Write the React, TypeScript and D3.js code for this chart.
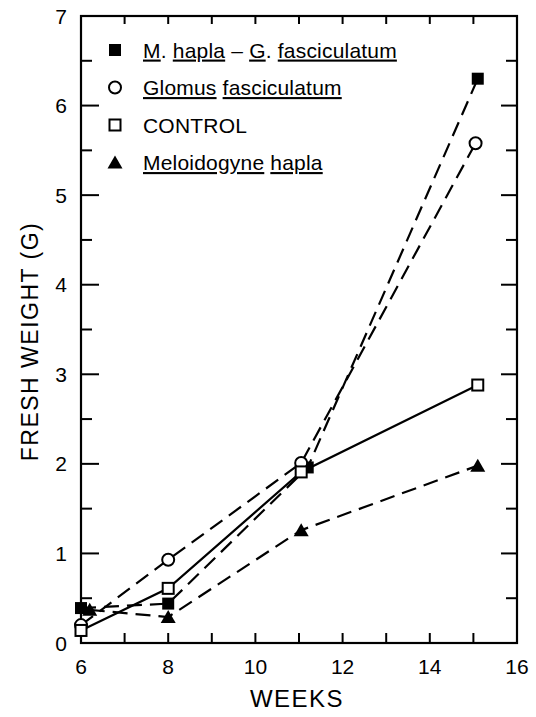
import * as d3 from "d3";

// weeks and fresh weight (g) per treatment
const mgWeeks = [6.0, 8, 11.2, 15.1];
const mgValues = [0.39, 0.44, 1.96, 6.3];
const gfWeeks = [6.0, 8, 11.05, 15.05];
const gfValues = [0.2, 0.93, 2.01, 5.58];
const ctrlWeeks = [6.0, 8, 11.05, 15.1];
const ctrlValues = [0.14, 0.61, 1.91, 2.88];
const mhWeeks = [6.2, 8, 11.05, 15.1];
const mhValues = [0.37, 0.29, 1.26, 1.98];

const xTickLabels = [6, 8, 10, 12, 14, 16];
const yTickLabels = [0, 1, 2, 3, 4, 5, 6, 7];

const W = 536,
  H = 717;
const left = 81,
  right = 517,
  top = 16,
  bottom = 643;

const FONT = "'Liberation Sans', Arial, sans-serif";

type Kind = "fsquare" | "circle" | "square" | "triangle";

function Marker({ kind, cx, cy }: { kind: Kind; cx: number; cy: number }) {
  if (kind === "fsquare") return <rect x={cx - 6} y={cy - 6} width={12} height={12} fill="#000" />;
  if (kind === "square")
    return <rect x={cx - 5.5} y={cy - 5.5} width={11} height={11} fill="#fff" stroke="#000" strokeWidth={2} />;
  if (kind === "circle") return <circle cx={cx} cy={cy} r={6} fill="#fff" stroke="#000" strokeWidth={2} />;
  return <path d={`M${cx},${cy - 7}L${cx + 7.5},${cy + 6}L${cx - 7.5},${cy + 6}Z`} fill="#000" />;
}

export default function App() {
  const x = d3.scaleLinear().domain([6, 16]).range([left, right]);
  const y = d3.scaleLinear().domain([0, 7]).range([bottom, top]);

  const series = [
    { kind: "fsquare" as Kind, weeks: mgWeeks, values: mgValues, dash: "15,8" },
    { kind: "circle" as Kind, weeks: gfWeeks, values: gfValues, dash: "15,8" },
    { kind: "square" as Kind, weeks: ctrlWeeks, values: ctrlValues, dash: undefined },
    { kind: "triangle" as Kind, weeks: mhWeeks, values: mhValues, dash: "15,8" },
  ];

  const line = d3
    .line<[number, number]>()
    .x((d) => x(d[0]))
    .y((d) => y(d[1]));

  const weekTicks = d3.range(6, 17);
  const yMinor = d3.range(0, 7.01, 0.5);

  const under = { textDecoration: "underline" } as const;
  const legendRows: { kind: Kind; content: any }[] = [
    {
      kind: "fsquare",
      content: (
        <>
          <tspan style={under}>M</tspan>. <tspan style={under}>hapla</tspan> – <tspan style={under}>G</tspan>.{" "}
          <tspan style={under}>fasciculatum</tspan>
        </>
      ),
    },
    {
      kind: "circle",
      content: (
        <>
          <tspan style={under}>Glomus</tspan> <tspan style={under}>fasciculatum</tspan>
        </>
      ),
    },
    { kind: "square", content: <>CONTROL</> },
    {
      kind: "triangle",
      content: (
        <>
          <tspan style={under}>Meloidogyne</tspan> <tspan style={under}>hapla</tspan>
        </>
      ),
    },
  ];

  return (
    <svg
      width={W}
      height={H}
      style={{ position: "absolute", left: 0, top: 0, background: "#fff" }}
      fontFamily={FONT}
    >
      {/* frame */}
      <rect x={left} y={top} width={right - left} height={bottom - top} fill="none" stroke="#000" strokeWidth={2.2} />

      {/* week ticks, bottom and top */}
      {weekTicks.map((w) => (
        <g key={w}>
          <line x1={x(w)} x2={x(w)} y1={bottom} y2={bottom - 10} stroke="#000" strokeWidth={2} />
          <line x1={x(w)} x2={x(w)} y1={top} y2={top + 8} stroke="#000" strokeWidth={2} />
        </g>
      ))}

      {/* weight ticks, left and right */}
      {yMinor.map((v) => {
        const major = Number.isInteger(v);
        return (
          <g key={v}>
            <line x1={left} x2={left + (major ? 18 : 11)} y1={y(v)} y2={y(v)} stroke="#000" strokeWidth={2} />
            <line x1={right} x2={right - (major ? 16 : 11)} y1={y(v)} y2={y(v)} stroke="#000" strokeWidth={2} />
          </g>
        );
      })}

      {yTickLabels.map((v) => (
        <text key={v} x={61} y={y(v)} dy="0.36em" textAnchor="middle" fontSize={21}>
          {v}
        </text>
      ))}
      {xTickLabels.map((w) => (
        <text key={w} x={x(w)} y={666} dy="0.36em" textAnchor="middle" fontSize={21}>
          {w}
        </text>
      ))}

      <text x={297} y={707} textAnchor="middle" fontSize={24} letterSpacing={1.5}>
        WEEKS
      </text>
      <text
        transform={`translate(38,${(top + bottom) / 2 + 12}) rotate(-90)`}
        textAnchor="middle"
        fontSize={23}
        letterSpacing={1.5}
      >
        FRESH WEIGHT (G)
      </text>

      {/* series */}
      {series.map((s, i) => (
        <path
          key={i}
          d={line(s.weeks.map((w, j) => [w, s.values[j]] as [number, number])) || ""}
          fill="none"
          stroke="#000"
          strokeWidth={2.2}
          strokeDasharray={s.dash}
        />
      ))}
      {series.map((s, i) =>
        s.weeks.map((w, j) => <Marker key={`${i}-${j}`} kind={s.kind} cx={x(w)} cy={y(s.values[j])} />)
      )}

      {/* legend */}
      {legendRows.map((r, i) => {
        const cy = 50 + i * 37.5;
        return (
          <g key={i}>
            <Marker kind={r.kind} cx={115} cy={cy} />
            <text x={143} y={cy} dy="0.36em" fontSize={21} letterSpacing={0.2}>
              {r.content}
            </text>
          </g>
        );
      })}
    </svg>
  );
}
